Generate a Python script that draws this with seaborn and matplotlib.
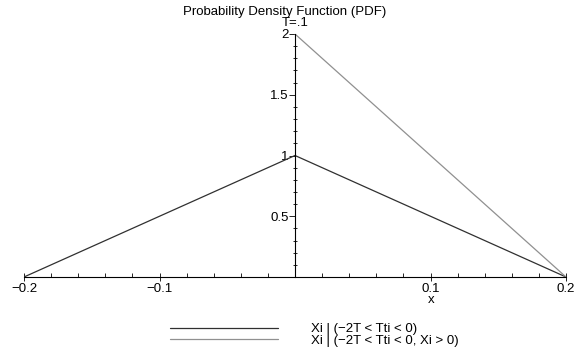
import matplotlib
matplotlib.use("Agg")
import matplotlib.pyplot as plt
import seaborn as sns
import pandas as pd
from matplotlib.ticker import MultipleLocator, FixedLocator
from matplotlib.lines import Line2D

sns.set_style("white")
plt.rcParams['font.family'] = ['Liberation Sans', 'DejaVu Sans']
plt.rcParams['text.color'] = 'black'
plt.rcParams['xtick.color'] = 'black'
plt.rcParams['ytick.color'] = 'black'
plt.rcParams['xtick.labelcolor'] = 'black'
plt.rcParams['ytick.labelcolor'] = 'black'

x1 = [-0.2, 0.0, 0.2]
y1 = [0.0, 1.0, 0.0]
x2 = [0.0, 0.2]
y2 = [2.0, 0.0]
label1 = "Xi | (\u22122T < Tti < 0)"
label2 = "Xi | (\u22122T < Tti < 0, Xi > 0)"
xticks = [-0.2, -0.1, 0.1, 0.2]
xticklabels = ["\u22120.2", "\u22120.1", "0.1", "0.2"]
yticks = [0.5, 1.0, 1.5, 2.0]
yticklabels = ["0.5", "1", "1.5", "2"]
c1, c2 = "#303030", "#909090"

df = pd.concat([
    pd.DataFrame({"x": x1, "y": y1, "series": label1}),
    pd.DataFrame({"x": x2, "y": y2, "series": label2}),
])

fs = 9.5
fig = plt.figure(figsize=(5.74, 3.56), dpi=100)
ax = fig.add_axes([24/574, 1-277/356, (566-24)/574, (277-34)/356])
sns.lineplot(data=df, x="x", y="y", hue="series", palette=[c1, c2],
             linewidth=0.9, ax=ax, legend=False, sort=False, estimator=None)
ax.set_xlim(-0.2, 0.2)
ax.set_ylim(0, 2.0)
ax.spines['left'].set_position(('data', 0))
ax.spines['bottom'].set_position(('data', 0))
for s in ['top', 'right']:
    ax.spines[s].set_visible(False)
for s in ['left', 'bottom']:
    ax.spines[s].set_color('black')
    ax.spines[s].set_linewidth(0.8)
ax.xaxis.set_major_locator(FixedLocator(xticks))
ax.set_xticklabels(xticklabels)
ax.yaxis.set_major_locator(FixedLocator(yticks))
ax.set_yticklabels(yticklabels)
ax.xaxis.set_minor_locator(MultipleLocator(0.02))
ax.yaxis.set_minor_locator(MultipleLocator(0.1))
ax.tick_params(axis='x', which='major', direction='inout', length=6, width=0.6, labelsize=fs, pad=1, bottom=True)
ax.tick_params(axis='x', which='minor', direction='in', length=3, width=0.6, bottom=True)
ax.tick_params(axis='y', which='major', direction='out', length=4, width=0.6, labelsize=fs, pad=0.5, left=True)
ax.tick_params(axis='y', which='minor', direction='inout', length=3, width=0.6, left=True)
ax.set_xlabel("")
ax.set_ylabel("")
ax.grid(False)

fig.text(285/574, 1-12/356, "Probability Density Function (PDF)", ha='center', va='center', fontsize=fs)
fig.text(295/574, 1-23/356, "T=.1", ha='center', va='center', fontsize=fs)
fig.text(431/574, 1-300/356, "x", ha='center', va='center', fontsize=fs)

handles = [Line2D([], [], color=c1, lw=0.9), Line2D([], [], color=c2, lw=0.9)]
fig.legend(handles, [label1, label2], loc='center left', bbox_to_anchor=(170/574, 1-335/356),
           frameon=False, fontsize=fs, handlelength=8.2, handletextpad=2.5,
           labelspacing=-0.05, borderpad=0, borderaxespad=0)

fig.savefig("out.png", dpi=100)
